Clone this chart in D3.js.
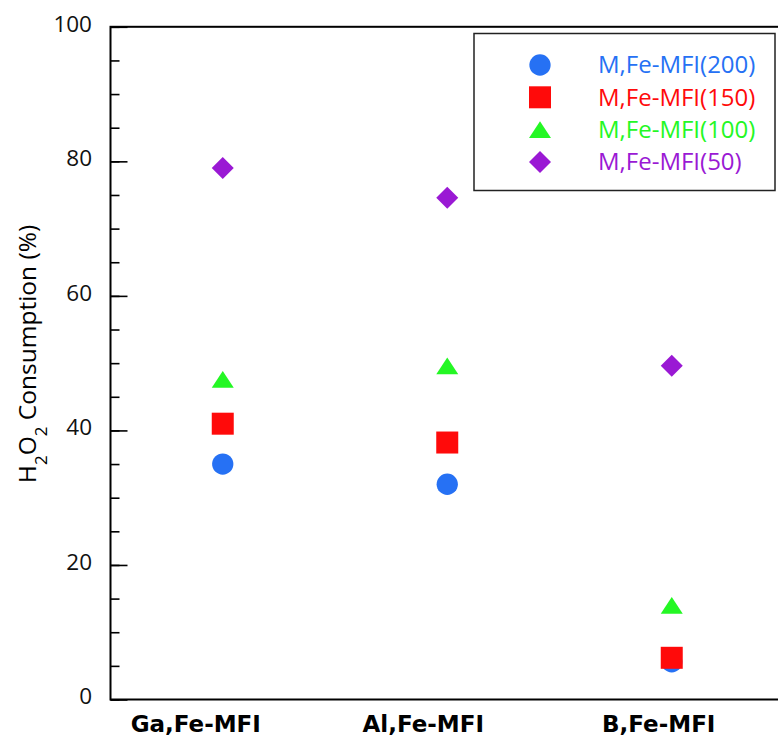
<!DOCTYPE html>
<html>
<head>
<meta charset="utf-8">
<script src="https://cdn.jsdelivr.net/npm/d3@7/dist/d3.min.js"></script>
<style>
  body { margin: 0; background: #fff; }
  svg { display: block; }
</style>
</head>
<body>
<svg id="chart" width="778" height="744"></svg>
<script>
// catalyst on the x axis, one marker per Si/M ratio series
const categories = ['Ga,Fe-MFI', 'Al,Fe-MFI', 'B,Fe-MFI'];
const seriesNames = ['M,Fe-MFI(200)', 'M,Fe-MFI(150)', 'M,Fe-MFI(100)', 'M,Fe-MFI(50)'];
const s200 = [35.0, 32.0, 5.6];
const s150 = [41.0, 38.2, 6.2];
const s100 = [47.6, 49.6, 14.0];
const s50 = [79.0, 74.6, 49.6];
const yTicks = [0, 20, 40, 60, 80, 100];

const colors = ['#2671f4', '#ff0a0a', '#24f724', '#9a19d4'];

// excel style markers, sized by width
const triangle = {
  draw(ctx, size) {
    const w = Math.sqrt(size), h = w * 0.76;
    ctx.moveTo(0, -h / 2);
    ctx.lineTo(w / 2, h / 2);
    ctx.lineTo(-w / 2, h / 2);
    ctx.closePath();
  }
};
const diamond = {
  draw(ctx, size) {
    const r = Math.sqrt(size) / 2;
    ctx.moveTo(0, -r);
    ctx.lineTo(r, 0);
    ctx.lineTo(0, r);
    ctx.lineTo(-r, 0);
    ctx.closePath();
  }
};
const symbols = [
  d3.symbol(d3.symbolCircle, 356),
  d3.symbol(d3.symbolSquare, 484),
  d3.symbol(triangle, 484),
  d3.symbol(diamond, 484),
];

const series = [s200, s150, s100, s50].map((vals, i) => ({
  name: seriesNames[i],
  color: colors[i],
  symbol: symbols[i],
  points: vals.map((v, j) => ({cat: categories[j], v})),
}));

const svg = d3.select('#chart');
const mLeft = 110.5, mRight = 784, mTop = 26.8, mBottom = 699.5;

const x = d3.scaleBand().domain(categories).range([mLeft, mRight]);
const y = d3.scaleLinear().domain([0, 100]).range([mBottom, mTop]);

// frame
svg.append('rect')
  .attr('x', mLeft).attr('y', mTop)
  .attr('width', mRight - mLeft).attr('height', mBottom - mTop)
  .attr('fill', 'none').attr('stroke', '#000').attr('stroke-width', 2);

// inside ticks: minor every 5, major every 20
const yMinor = d3.axisRight(y).tickValues(d3.range(0, 101, 5)).tickSize(9).tickFormat('');
const yMajor = d3.axisRight(y).tickValues(yTicks).tickSize(17).tickFormat('');
[yMinor, yMajor].forEach(ax => {
  const g = svg.append('g').attr('transform', `translate(${mLeft},0)`).call(ax);
  g.select('.domain').remove();
  g.selectAll('line').attr('stroke', '#000').attr('stroke-width', 1.6);
});

svg.append('g').selectAll('text')
  .data(yTicks)
  .join('text')
  .attr('x', 92)
  .attr('y', d => y(d) - 3)
  .attr('dy', '0.35em')
  .attr('text-anchor', 'end')
  .style('font-family', '"Open Sans", sans-serif')
  .style('font-size', '22.5px')
  .attr('fill', '#111')
  .text(d => d);

// category labels sit a little left of the markers
const labelShift = [-27, -24, -13];
svg.append('g').selectAll('text')
  .data(categories)
  .join('text')
  .attr('x', (d, i) => x(d) + x.bandwidth() / 2 + labelShift[i])
  .attr('y', 732)
  .attr('text-anchor', 'middle')
  .style('font-family', '"DejaVu Sans", sans-serif')
  .style('font-weight', 'bold')
  .style('font-size', '23px')
  .attr('fill', '#000')
  .text(d => d);

// y title with subscripts
const title = svg.append('text')
  .attr('transform', 'translate(36,354) rotate(-90)')
  .attr('text-anchor', 'middle')
  .style('font-family', '"Open Sans", sans-serif')
  .style('font-size', '24.5px')
  .attr('fill', '#000');
title.append('tspan').text('H');
title.append('tspan').attr('dy', 11).style('font-size', '17px').text('2');
title.append('tspan').attr('dy', -11).text('O');
title.append('tspan').attr('dy', 11).style('font-size', '17px').text('2');
title.append('tspan').attr('dy', -11).text(' Consumption (%)');

// markers
svg.append('g').selectAll('g')
  .data(series)
  .join('g')
  .attr('fill', d => d.color)
  .selectAll('path')
  .data(d => d.points.map(p => ({...p, symbol: d.symbol})))
  .join('path')
  .attr('transform', d => `translate(${x(d.cat) + x.bandwidth() / 2},${y(d.v)})`)
  .attr('d', d => d.symbol());

// legend
const legend = svg.append('g');
legend.append('rect')
  .attr('x', 474).attr('y', 33.5)
  .attr('width', 301).attr('height', 157)
  .attr('fill', '#fff').attr('stroke', '#222').attr('stroke-width', 1.5);
const rows = legend.selectAll('g.row')
  .data(series)
  .join('g')
  .attr('class', 'row')
  .attr('transform', (d, i) => `translate(0,${65 + i * 32.3})`);
rows.append('path')
  .attr('transform', 'translate(540,0)')
  .attr('fill', d => d.color)
  .attr('d', d => d.symbol());
rows.append('text')
  .attr('x', 598)
  .attr('dy', '0.35em')
  .attr('fill', d => d.color)
  .style('font-family', '"Open Sans", sans-serif')
  .style('font-size', '24px')
  .text(d => d.name);
</script>
</body>
</html>
